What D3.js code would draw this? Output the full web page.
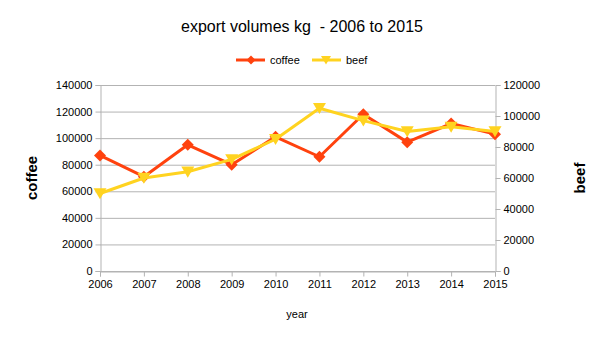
<!DOCTYPE html>
<html>
<head>
<meta charset="utf-8">
<script src="https://cdn.jsdelivr.net/npm/d3@7/dist/d3.min.js"></script>
<style>
  html, body { margin: 0; padding: 0; background: #fff; }
  svg { display: block; font-family: "Liberation Sans", Arial, sans-serif; }
</style>
</head>
<body>
<svg id="chart" width="605" height="340"></svg>
<script>
// Export volumes per year
const years = [2006, 2007, 2008, 2009, 2010, 2011, 2012, 2013, 2014, 2015];
const coffee = [87000, 71000, 95000, 80000, 101000, 86000, 118000, 97000, 111000, 103000];
const beef = [50000, 60000, 64000, 72000, 85000, 105000, 97000, 90000, 93000, 90000];
const leftTicks = [0, 20000, 40000, 60000, 80000, 100000, 120000, 140000];
const rightTicks = [0, 20000, 40000, 60000, 80000, 100000, 120000];

const colors = { coffee: "#ff420e", beef: "#ffd320" };
const gridColor = "#b3b3b3";

const svg = d3.select("#chart");
const m = { left: 100, right: 495, top: 85, bottom: 271 };

const x = d3.scalePoint().domain(years).range([m.left, m.right]);
const yL = d3.scaleLinear().domain([0, 140000]).range([m.bottom, m.top]);
const yR = d3.scaleLinear().domain([0, 120000]).range([m.bottom, m.top]);

// Title
svg.append("text")
  .attr("x", 302).attr("y", 32)
  .attr("text-anchor", "middle")
  .attr("font-size", 16).attr("fill", "#000")
  .style("white-space", "pre")
  .text("export volumes kg  - 2006 to 2015");

// Horizontal grid
svg.append("g").selectAll("line").data(leftTicks).join("line")
  .attr("x1", m.left).attr("x2", m.right)
  .attr("y1", d => yL(d) + 0.5).attr("y2", d => yL(d) + 0.5)
  .attr("stroke", gridColor).attr("stroke-width", 1);

// Left axis
const gL = svg.append("g").attr("transform", `translate(${m.left + 0.5},0)`)
  .call(d3.axisLeft(yL).tickValues(leftTicks).tickSize(5).tickPadding(3).tickFormat(d3.format("d")));
// Right axis
const gR = svg.append("g").attr("transform", `translate(${m.right + 0.5},0)`)
  .call(d3.axisRight(yR).tickValues(rightTicks).tickSize(5).tickPadding(3).tickFormat(d3.format("d")));
// Bottom axis
const gB = svg.append("g").attr("transform", `translate(0,${m.bottom + 0.5})`)
  .call(d3.axisBottom(x).tickSize(5).tickPadding(4).tickFormat(d3.format("d")));

[gL, gR, gB].forEach(g => {
  g.select(".domain").attr("stroke", gridColor);
  g.selectAll(".tick line").attr("stroke", gridColor);
  g.selectAll(".tick text").attr("font-size", 11).attr("fill", "#000")
    .attr("font-family", "Liberation Sans, Arial, sans-serif");
});

// Axis titles
svg.append("text")
  .attr("transform", "translate(37,178) rotate(-90)")
  .attr("text-anchor", "middle")
  .attr("font-size", 15).attr("font-weight", "bold")
  .text("coffee");
svg.append("text")
  .attr("transform", "translate(585,178) rotate(-90)")
  .attr("text-anchor", "middle")
  .attr("font-size", 15).attr("font-weight", "bold")
  .text("beef");
svg.append("text")
  .attr("x", 297).attr("y", 318)
  .attr("text-anchor", "middle")
  .attr("font-size", 11)
  .text("year");

// Marker shapes
const diamond = (s) => `M0,${-s}L${s},0L0,${s}L${-s},0Z`;
const triDown = (s) => `M${-s},${-s * 0.8}L${s},${-s * 0.8}L0,${s * 0.9}Z`;

function drawSeries(values, y, color, shape) {
  const line = d3.line().x((d, i) => x(years[i])).y(d => y(d));
  svg.append("path").datum(values)
    .attr("d", line)
    .attr("fill", "none")
    .attr("stroke", color)
    .attr("stroke-width", 3)
    .attr("stroke-linejoin", "round");
  svg.append("g").selectAll("path").data(values).join("path")
    .attr("transform", (d, i) => `translate(${x(years[i])},${y(d)})`)
    .attr("d", shape)
    .attr("fill", color);
}

drawSeries(coffee, yL, colors.coffee, diamond(6));
drawSeries(beef, yR, colors.beef, triDown(6.5));

// Legend
const lg = svg.append("g");
lg.append("line").attr("x1", 236).attr("x2", 265).attr("y1", 60).attr("y2", 60)
  .attr("stroke", colors.coffee).attr("stroke-width", 3);
lg.append("path").attr("transform", "translate(251,60)").attr("d", diamond(4.5)).attr("fill", colors.coffee);
lg.append("text").attr("x", 270).attr("y", 64).attr("font-size", 11).text("coffee");
lg.append("line").attr("x1", 312).attr("x2", 341).attr("y1", 60).attr("y2", 60)
  .attr("stroke", colors.beef).attr("stroke-width", 3);
lg.append("path").attr("transform", "translate(326,60)").attr("d", triDown(5)).attr("fill", colors.beef);
lg.append("text").attr("x", 346).attr("y", 64).attr("font-size", 11).text("beef");
</script>
</body>
</html>
